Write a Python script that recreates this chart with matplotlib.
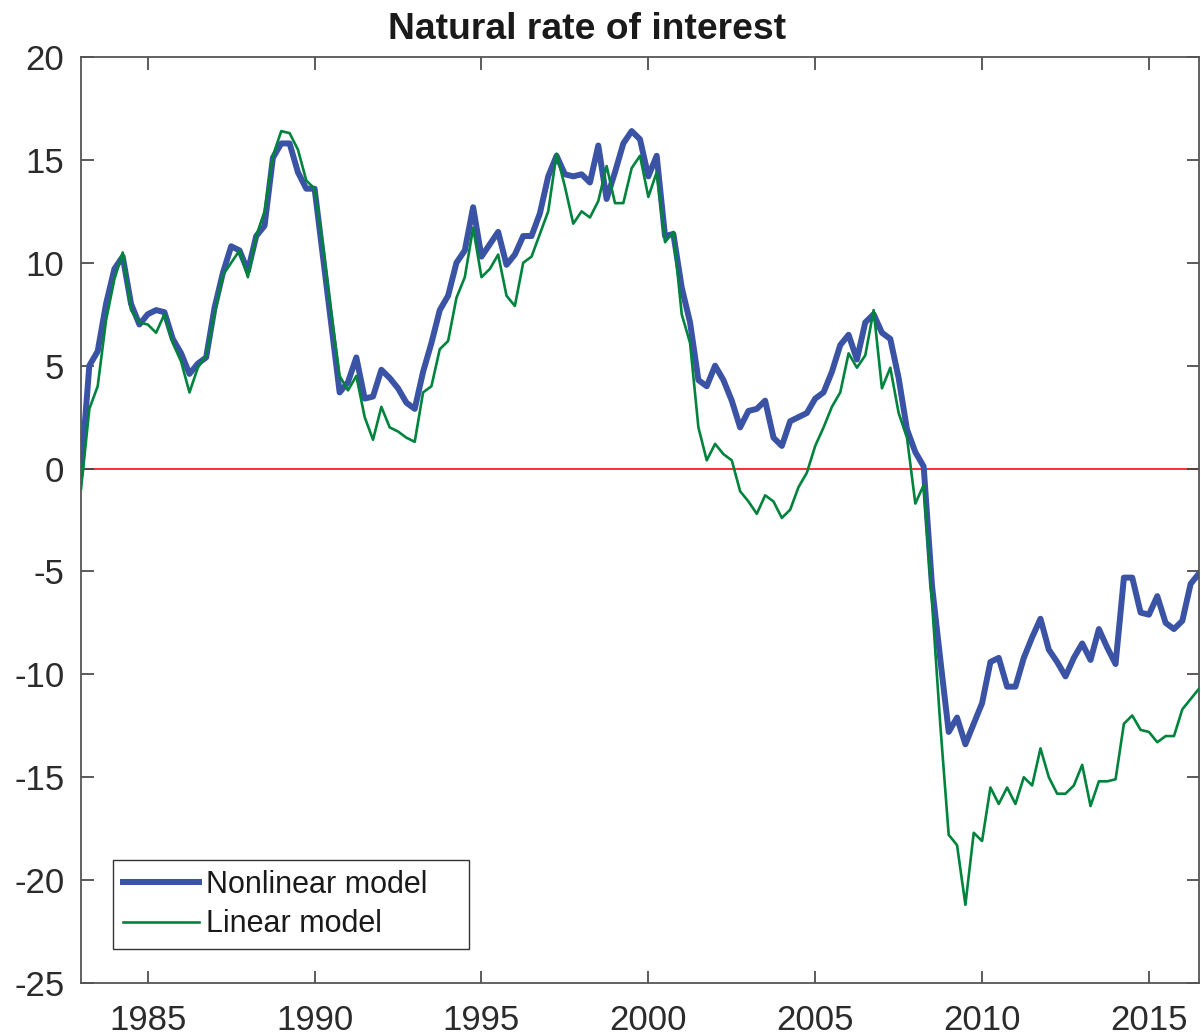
import numpy as np
import matplotlib
matplotlib.use('Agg')
import matplotlib.pyplot as plt

plt.rcParams['font.family'] = ['Liberation Sans', 'DejaVu Sans']
plt.rcParams['axes.unicode_minus'] = False

# quarterly data, 1983Q1 .. 2016Q3
start_year = 1983
nonlinear = [-0.2, 5.0, 5.7, 8.0, 9.7, 10.3, 8.0, 7.0, 7.5, 7.7,
             7.6, 6.3, 5.6, 4.6, 5.1, 5.4, 7.8, 9.5, 10.8, 10.6,
             9.6, 11.3, 11.8, 15.1, 15.8, 15.8, 14.4, 13.6, 13.6, 10.3,
             7.0, 3.7, 4.2, 5.4, 3.4, 3.5, 4.8, 4.4, 3.9, 3.2,
             2.9, 4.7, 6.1, 7.7, 8.4, 10.0, 10.6, 12.7, 10.3, 10.9,
             11.5, 9.9, 10.4, 11.3, 11.3, 12.4, 14.2, 15.2, 14.3, 14.2,
             14.3, 13.9, 15.7, 13.1, 14.4, 15.8, 16.4, 16.0, 14.2, 15.2,
             11.3, 11.4, 8.8, 7.1, 4.3, 4.0, 5.0, 4.3, 3.3, 2.0,
             2.8, 2.9, 3.3, 1.5, 1.1, 2.3, 2.5, 2.7, 3.4, 3.7,
             4.7, 6.0, 6.5, 5.3, 7.1, 7.5, 6.6, 6.3, 4.4, 1.9,
             0.8, 0.1, -5.7, -9.3, -12.8, -12.1, -13.4, -12.4, -11.4, -9.4,
             -9.2, -10.6, -10.6, -9.2, -8.2, -7.3, -8.8, -9.4, -10.1, -9.2,
             -8.5, -9.3, -7.8, -8.7, -9.5, -5.3, -5.3, -7.0, -7.1, -6.2,
             -7.5, -7.8, -7.4, -5.6, -5.1]
linear = [-1.0, 2.9, 4.0, 7.2, 9.2, 10.5, 7.7, 7.1, 7.0, 6.6,
          7.5, 6.1, 5.2, 3.7, 4.9, 5.5, 7.5, 9.4, 10.0, 10.6,
          9.3, 11.3, 12.5, 15.2, 16.4, 16.3, 15.5, 14.0, 13.6, 10.8,
          7.5, 4.5, 3.8, 4.5, 2.5, 1.4, 3.0, 2.0, 1.8, 1.5,
          1.3, 3.7, 4.0, 5.8, 6.2, 8.3, 9.3, 11.7, 9.3, 9.7,
          10.4, 8.4, 7.9, 10.0, 10.3, 11.4, 12.5, 15.3, 13.7, 11.9,
          12.5, 12.2, 13.0, 14.7, 12.9, 12.9, 14.6, 15.2, 13.2, 14.4,
          11.0, 11.5, 7.5, 6.1, 2.0, 0.4, 1.2, 0.7, 0.4, -1.1,
          -1.6, -2.2, -1.3, -1.6, -2.4, -2.0, -0.9, -0.2, 1.1, 2.0,
          3.0, 3.7, 5.6, 4.9, 5.5, 7.7, 3.9, 4.9, 2.7, 1.5,
          -1.7, -0.8, -6.5, -12.5, -17.8, -18.3, -21.2, -17.7, -18.1, -15.5,
          -16.3, -15.5, -16.3, -15.0, -15.4, -13.6, -15.0, -15.8, -15.8, -15.4,
          -14.4, -16.4, -15.2, -15.2, -15.1, -12.4, -12.0, -12.7, -12.8, -13.3,
          -13.0, -13.0, -11.7, -11.2, -10.7]

dates = start_year + np.arange(len(nonlinear)) / 4

fig = plt.figure(figsize=(12.01, 10.36), dpi=100)
ax = fig.add_axes([81 / 1201, 1 - 983 / 1036, 1118 / 1201, 926 / 1036])

ax.axhline(0, color='#ff2020', lw=1.3, zorder=1)
ax.plot(dates, nonlinear, color='#3a53a4', lw=4.3, label='Nonlinear model', zorder=2)
ax.plot(dates, linear, color='#00843d', lw=1.9, label='Linear model', zorder=3)

ax.set_xlim(1983, 2016.5)
ax.set_ylim(-25, 20)
ax.set_xticks(np.arange(1985, 2016, 5))
ax.set_yticks(np.arange(-25, 21, 5))
ax.tick_params(direction='in', length=9, width=1.2, colors='#404040',
               labelcolor='#2b2b2b', labelsize=25, top=True, right=True, pad=12)
ax.tick_params(axis='x', pad=15)
for s in ax.spines.values():
    s.set_color('#555555')
    s.set_linewidth(1.3)

ax.set_title('Natural rate of interest', fontsize=26.8, fontweight='bold',
             x=0.453, pad=13, color='#1a1a1a')

leg = ax.legend(loc='lower left', bbox_to_anchor=(0.0286, 0.0367, 0.3184, 0.095),
                mode='expand', borderaxespad=0,
                fontsize=22, fancybox=False, framealpha=1, edgecolor='#333333',
                handlelength=2.5, handletextpad=0.23, borderpad=0.32, labelspacing=0.3)
leg.get_frame().set_linewidth(1.0)
for t in leg.get_texts():
    t.set_color('#1a1a1a')

fig.savefig('out.png', dpi=100)
